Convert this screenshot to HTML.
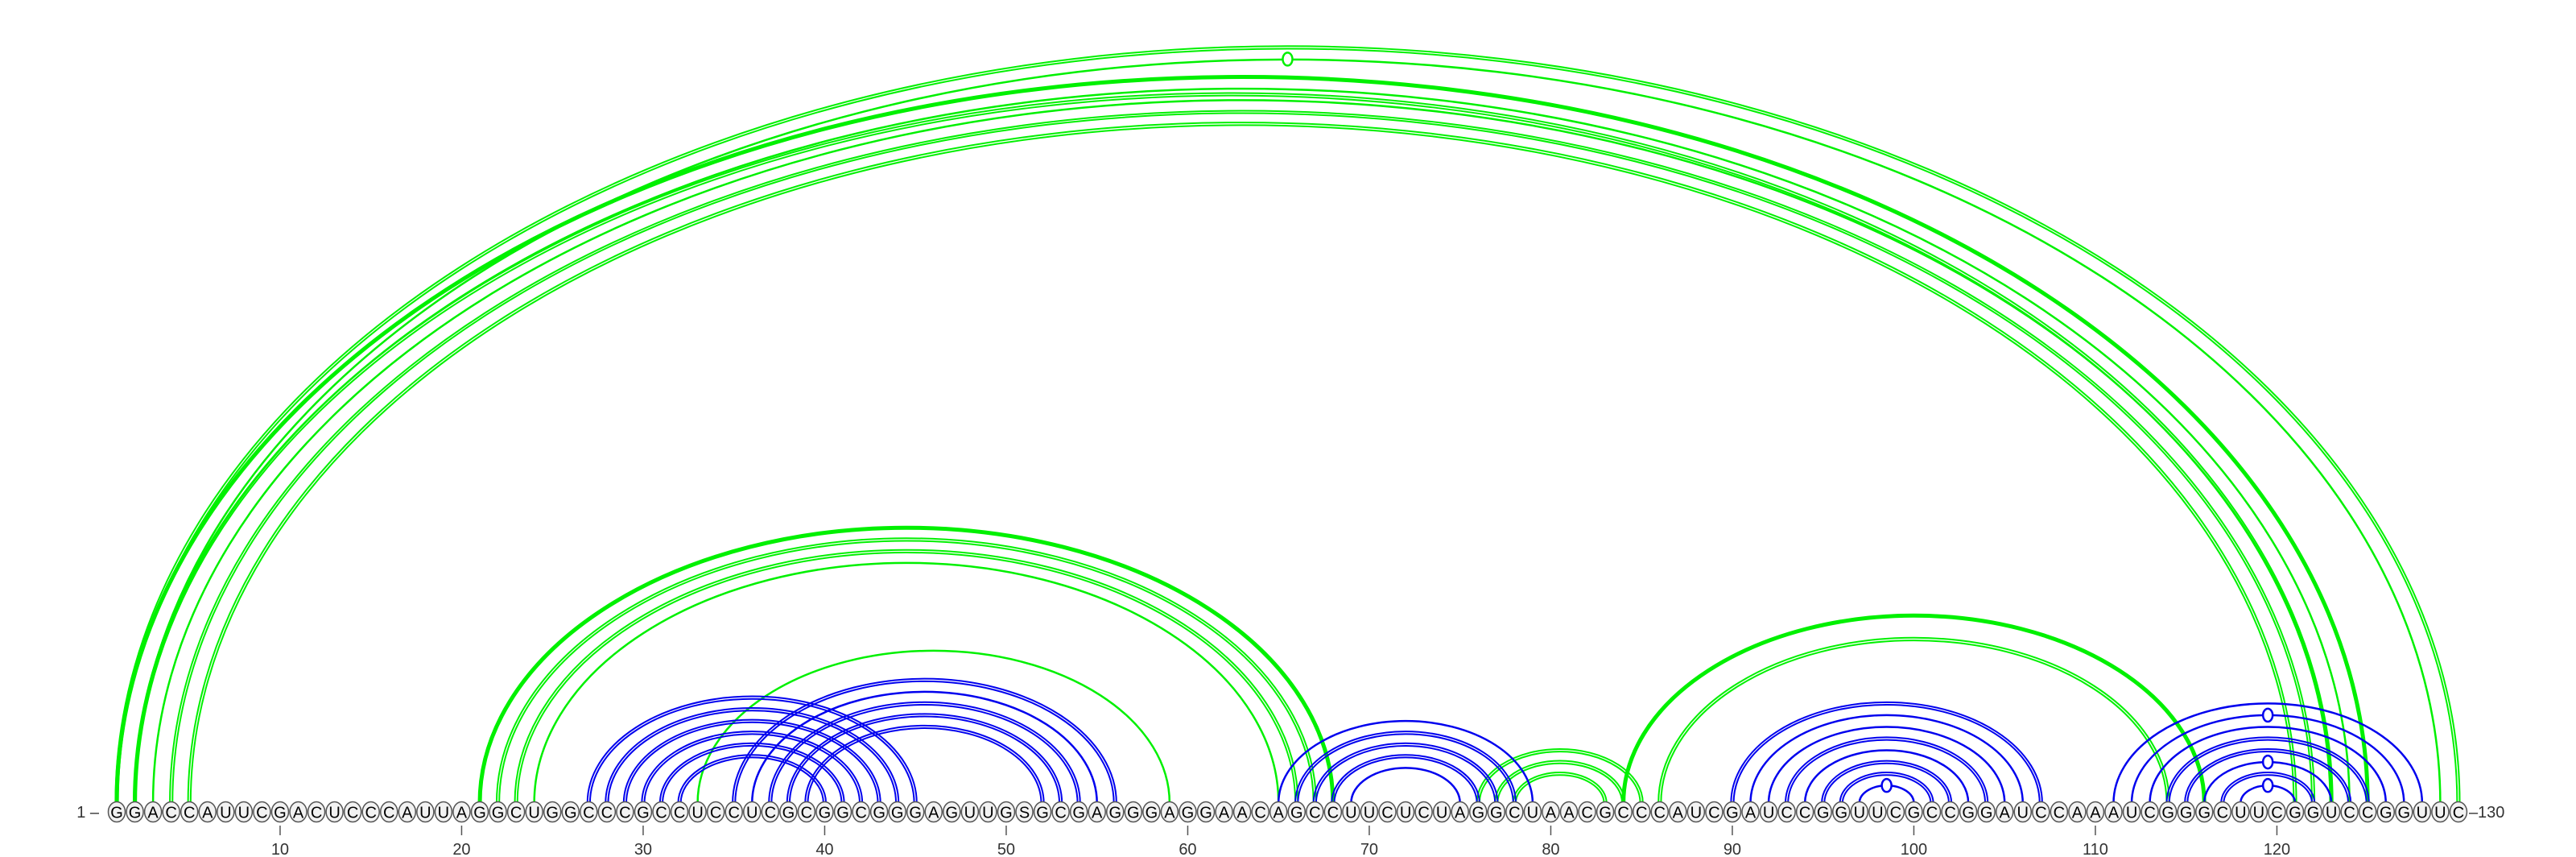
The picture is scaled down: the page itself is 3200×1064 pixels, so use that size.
<!DOCTYPE html>
<html><head><meta charset="utf-8">
<style>
html,body{margin:0;padding:0;background:#fff;}
svg{display:block;font-family:"Liberation Sans","DejaVu Sans",sans-serif;}
</style></head>
<body>
<svg id="chart" width="3200" height="1064" viewBox="0 0 3200 1064" xmlns="http://www.w3.org/2000/svg">
<g id="arcs"></g>
<g id="seq"></g>
</svg>
<script>
const sequence = "GGACCAUUCGACUCCCAUUAGGCUGGCCCGCCUCCUCGCGGCGGGAGUUGSGCGAGGGAGGAACAGCCUUCUCUAGGCUAACGCCCAUCGAUCCGGUUCGCCGGAUCCAAAUCGGGCUUCGGUCCGGUUC";
const tickPositions = [10,20,30,40,50,60,70,80,90,100,110,120];
// green pairs: [i, j, lines(1 single,2 double,3 thick), marker]
const greenPairs = [
  [1,130,2,0],[2,129,1,1],
  [1,125,3,0],[2,124,1,0],[2,123,2,0],[3,123,1,0],[4,122,2,0],[5,121,2,0],
  [21,68,3,0],[22,67,2,0],[23,66,2,0],[24,65,1,0],
  [33,59,1,0],
  [76,85,2,0],[77,84,2,0],[78,83,2,0],
  [84,116,3,0],[86,114,2,0]
];
const bluePairs = [
  [27,45,2,0],[28,44,2,0],[29,43,2,0],[30,42,2,0],[31,41,2,0],[32,40,2,0],
  [35,56,2,0],[36,55,1,0],[37,54,2,0],[38,53,2,0],[39,52,2,0],
  [65,79,1,0],[66,78,2,0],[67,77,2,0],[68,76,2,0],[69,75,1,0],
  [90,107,2,0],[91,106,1,0],[92,105,1,0],[93,104,2,0],[94,103,1,0],[95,102,2,0],[96,101,2,0],[97,100,1,1],
  [111,128,1,0],[112,127,1,1],[113,126,1,0],[114,125,2,0],[115,124,2,0],[116,123,1,1],[117,122,2,0],[118,121,1,1]
];

const NS="http://www.w3.org/2000/svg";
const X0=145, DX=22.55, BASE=1008, ARCY=997, RATIO=0.645;
function xPos(i){return X0+(i-1)*DX;}
const arcsG=document.getElementById('arcs');
const seqG=document.getElementById('seq');

function arcPath(x1,x2,dr){
  const rx=(x2-x1)/2+dr, ry=((x2-x1)/2)*RATIO+dr;
  const a=x1-dr, b=x2+dr;
  return `M${a},${ARCY} A${rx},${ry} 0 0 1 ${b},${ARCY}`;
}
function drawPairs(pairs,color,label){
  pairs.forEach(p=>{
    const x1=xPos(p[0]), x2=xPos(p[1]);
    const offs = p[2]===2 ? [-1.6,1.6] : [0];
    offs.forEach(o=>{
      const path=document.createElementNS(NS,'path');
      path.setAttribute('d',arcPath(x1,x2,o));
      path.setAttribute('fill','none');
      path.setAttribute('stroke',color);
      path.setAttribute('stroke-width',p[2]===3?'5':(p[2]===2?'2':'2.5'));
      
      
      arcsG.appendChild(path);
    });
    if(p[3]){
      const h=((x2-x1)/2)*RATIO;
      const e=document.createElementNS(NS,'ellipse');
      e.setAttribute('cx',(x1+x2)/2);e.setAttribute('cy',ARCY-h);
      e.setAttribute('rx',6);e.setAttribute('ry',8);
      e.setAttribute('fill','#fff');e.setAttribute('stroke',color);e.setAttribute('stroke-width','2.5');
      
      
      arcsG.appendChild(e);
    }
  });
}
drawPairs(greenPairs,'#00f000','green-pair');
drawPairs(bluePairs,'#0000ee','blue-pair');

for(let i=1;i<=sequence.length;i++){
  const g=document.createElementNS(NS,'g');
  
  
  const e=document.createElementNS(NS,'ellipse');
  e.setAttribute('cx',xPos(i));e.setAttribute('cy',BASE);
  e.setAttribute('rx',10.5);e.setAttribute('ry',12.5);
  e.setAttribute('fill','#f2f2f2');e.setAttribute('stroke','#555');e.setAttribute('stroke-width','1.5');
  g.appendChild(e);
  const t=document.createElementNS(NS,'text');
  t.setAttribute('x',xPos(i));t.setAttribute('y',BASE+7.5);
  t.setAttribute('text-anchor','middle');t.setAttribute('font-size','20');t.setAttribute('fill','#000');
  t.textContent=sequence[i-1];
  g.appendChild(t);
  seqG.appendChild(g);
}
const l=document.createElementNS(NS,'text');
l.setAttribute('x',xPos(1)-22);l.setAttribute('y',BASE+7);l.setAttribute('text-anchor','end');
l.setAttribute('font-size','20');l.setAttribute('fill','#333');l.textContent='1 –';


seqG.appendChild(l);
const r=document.createElementNS(NS,'text');
r.setAttribute('x',xPos(130)+13);r.setAttribute('y',BASE+7);
r.setAttribute('font-size','20');r.setAttribute('fill','#333');r.textContent='–130';


seqG.appendChild(r);
tickPositions.forEach(v=>{
  const ln=document.createElementNS(NS,'line');
  ln.setAttribute('x1',xPos(v));ln.setAttribute('x2',xPos(v));
  ln.setAttribute('y1',1025);ln.setAttribute('y2',1037);
  ln.setAttribute('stroke','#555');ln.setAttribute('stroke-width','1.5');
  
  
  seqG.appendChild(ln);
  const t=document.createElementNS(NS,'text');
  t.setAttribute('x',xPos(v));t.setAttribute('y',1061);t.setAttribute('text-anchor','middle');
  t.setAttribute('font-size','20');t.setAttribute('fill','#333');t.textContent=v;
  
  
  seqG.appendChild(t);
});
</script>
</body></html>
